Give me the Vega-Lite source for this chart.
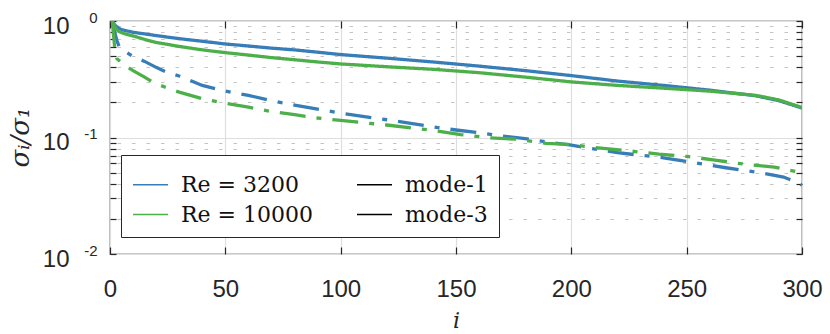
{
  "$schema": "https://vega.github.io/schema/vega-lite/v6.json",
  "width": 692,
  "height": 233,
  "autosize": {"type": "none"},
  "padding": {"left": 110, "top": 21, "right": 28, "bottom": 80},
  "background": "white",
  "config": {
    "view": {"stroke": "#262626", "strokeWidth": 1.2},
    "axis": {"domain": false, "labelFlush": false, "labelOverlap": false, "labelBound": false, "tickColor": "#262626", "tickWidth": 1.2, "labelColor": "#262626", "titleColor": "#262626"},
    "legend": {"orient": "none", "legendX": 11, "legendY": 134, "columns": 2, "padding": 11, "strokeColor": "#262626", "fillColor": "white", "labelFont": "DejaVu Serif", "labelFontSize": 22, "labelColor": "#111", "symbolType": "stroke", "symbolSize": 1225, "symbolStrokeWidth": 1.6, "labelOffset": 12, "columnPadding": 40, "rowPadding": 0, "title": null}
  },
  "datasets": {
    "sv": [
      {"i":1,"s":1,"Re":"Re = 3200","mode":"mode-1"},{"i":2,"s":0.93,"Re":"Re = 3200","mode":"mode-1"},{"i":3,"s":0.89,"Re":"Re = 3200","mode":"mode-1"},{"i":4,"s":0.86,"Re":"Re = 3200","mode":"mode-1"},{"i":5,"s":0.845,"Re":"Re = 3200","mode":"mode-1"},{"i":7,"s":0.825,"Re":"Re = 3200","mode":"mode-1"},{"i":10,"s":0.8,"Re":"Re = 3200","mode":"mode-1"},{"i":15,"s":0.775,"Re":"Re = 3200","mode":"mode-1"},{"i":20,"s":0.75,"Re":"Re = 3200","mode":"mode-1"},{"i":30,"s":0.705,"Re":"Re = 3200","mode":"mode-1"},{"i":40,"s":0.67,"Re":"Re = 3200","mode":"mode-1"},{"i":50,"s":0.635,"Re":"Re = 3200","mode":"mode-1"},{"i":60,"s":0.61,"Re":"Re = 3200","mode":"mode-1"},{"i":70,"s":0.585,"Re":"Re = 3200","mode":"mode-1"},{"i":80,"s":0.565,"Re":"Re = 3200","mode":"mode-1"},{"i":90,"s":0.54,"Re":"Re = 3200","mode":"mode-1"},{"i":100,"s":0.515,"Re":"Re = 3200","mode":"mode-1"},{"i":120,"s":0.48,"Re":"Re = 3200","mode":"mode-1"},{"i":140,"s":0.445,"Re":"Re = 3200","mode":"mode-1"},{"i":160,"s":0.41,"Re":"Re = 3200","mode":"mode-1"},{"i":180,"s":0.375,"Re":"Re = 3200","mode":"mode-1"},{"i":200,"s":0.34,"Re":"Re = 3200","mode":"mode-1"},{"i":220,"s":0.305,"Re":"Re = 3200","mode":"mode-1"},{"i":240,"s":0.28,"Re":"Re = 3200","mode":"mode-1"},{"i":260,"s":0.255,"Re":"Re = 3200","mode":"mode-1"},{"i":280,"s":0.228,"Re":"Re = 3200","mode":"mode-1"},{"i":290,"s":0.207,"Re":"Re = 3200","mode":"mode-1"},{"i":300,"s":0.179,"Re":"Re = 3200","mode":"mode-1"},

      {"i":1,"s":1,"Re":"Re = 3200","mode":"mode-3"},{"i":2,"s":0.8,"Re":"Re = 3200","mode":"mode-3"},{"i":3,"s":0.68,"Re":"Re = 3200","mode":"mode-3"},{"i":4,"s":0.6,"Re":"Re = 3200","mode":"mode-3"},{"i":5,"s":0.575,"Re":"Re = 3200","mode":"mode-3"},{"i":7,"s":0.54,"Re":"Re = 3200","mode":"mode-3"},{"i":10,"s":0.495,"Re":"Re = 3200","mode":"mode-3"},{"i":15,"s":0.45,"Re":"Re = 3200","mode":"mode-3"},{"i":20,"s":0.4,"Re":"Re = 3200","mode":"mode-3"},{"i":25,"s":0.36,"Re":"Re = 3200","mode":"mode-3"},{"i":30,"s":0.337,"Re":"Re = 3200","mode":"mode-3"},{"i":40,"s":0.28,"Re":"Re = 3200","mode":"mode-3"},{"i":50,"s":0.25,"Re":"Re = 3200","mode":"mode-3"},{"i":60,"s":0.23,"Re":"Re = 3200","mode":"mode-3"},{"i":70,"s":0.207,"Re":"Re = 3200","mode":"mode-3"},{"i":80,"s":0.19,"Re":"Re = 3200","mode":"mode-3"},{"i":90,"s":0.175,"Re":"Re = 3200","mode":"mode-3"},{"i":100,"s":0.162,"Re":"Re = 3200","mode":"mode-3"},{"i":120,"s":0.142,"Re":"Re = 3200","mode":"mode-3"},{"i":143,"s":0.121,"Re":"Re = 3200","mode":"mode-3"},{"i":150,"s":0.116,"Re":"Re = 3200","mode":"mode-3"},{"i":160,"s":0.11,"Re":"Re = 3200","mode":"mode-3"},{"i":170,"s":0.103,"Re":"Re = 3200","mode":"mode-3"},{"i":180,"s":0.098,"Re":"Re = 3200","mode":"mode-3"},{"i":190,"s":0.091,"Re":"Re = 3200","mode":"mode-3"},{"i":200,"s":0.086,"Re":"Re = 3200","mode":"mode-3"},{"i":220,"s":0.074,"Re":"Re = 3200","mode":"mode-3"},{"i":240,"s":0.067,"Re":"Re = 3200","mode":"mode-3"},{"i":255,"s":0.06,"Re":"Re = 3200","mode":"mode-3"},{"i":267,"s":0.055,"Re":"Re = 3200","mode":"mode-3"},{"i":280,"s":0.0506,"Re":"Re = 3200","mode":"mode-3"},{"i":292,"s":0.0458,"Re":"Re = 3200","mode":"mode-3"},{"i":298,"s":0.041,"Re":"Re = 3200","mode":"mode-3"},{"i":300,"s":0.039,"Re":"Re = 3200","mode":"mode-3"},

      {"i":1,"s":1,"Re":"Re = 10000","mode":"mode-1"},{"i":2,"s":0.9,"Re":"Re = 10000","mode":"mode-1"},{"i":3,"s":0.84,"Re":"Re = 10000","mode":"mode-1"},{"i":4,"s":0.81,"Re":"Re = 10000","mode":"mode-1"},{"i":5,"s":0.795,"Re":"Re = 10000","mode":"mode-1"},{"i":7,"s":0.77,"Re":"Re = 10000","mode":"mode-1"},{"i":10,"s":0.745,"Re":"Re = 10000","mode":"mode-1"},{"i":15,"s":0.695,"Re":"Re = 10000","mode":"mode-1"},{"i":20,"s":0.655,"Re":"Re = 10000","mode":"mode-1"},{"i":30,"s":0.605,"Re":"Re = 10000","mode":"mode-1"},{"i":40,"s":0.565,"Re":"Re = 10000","mode":"mode-1"},{"i":50,"s":0.535,"Re":"Re = 10000","mode":"mode-1"},{"i":60,"s":0.51,"Re":"Re = 10000","mode":"mode-1"},{"i":70,"s":0.485,"Re":"Re = 10000","mode":"mode-1"},{"i":80,"s":0.465,"Re":"Re = 10000","mode":"mode-1"},{"i":90,"s":0.445,"Re":"Re = 10000","mode":"mode-1"},{"i":100,"s":0.428,"Re":"Re = 10000","mode":"mode-1"},{"i":120,"s":0.405,"Re":"Re = 10000","mode":"mode-1"},{"i":140,"s":0.385,"Re":"Re = 10000","mode":"mode-1"},{"i":160,"s":0.36,"Re":"Re = 10000","mode":"mode-1"},{"i":180,"s":0.33,"Re":"Re = 10000","mode":"mode-1"},{"i":200,"s":0.3,"Re":"Re = 10000","mode":"mode-1"},{"i":220,"s":0.28,"Re":"Re = 10000","mode":"mode-1"},{"i":240,"s":0.265,"Re":"Re = 10000","mode":"mode-1"},{"i":260,"s":0.25,"Re":"Re = 10000","mode":"mode-1"},{"i":280,"s":0.23,"Re":"Re = 10000","mode":"mode-1"},{"i":290,"s":0.21,"Re":"Re = 10000","mode":"mode-1"},{"i":300,"s":0.181,"Re":"Re = 10000","mode":"mode-1"},

      {"i":1,"s":1,"Re":"Re = 10000","mode":"mode-3"},{"i":2,"s":0.6,"Re":"Re = 10000","mode":"mode-3"},{"i":3,"s":0.475,"Re":"Re = 10000","mode":"mode-3"},{"i":5,"s":0.44,"Re":"Re = 10000","mode":"mode-3"},{"i":7,"s":0.41,"Re":"Re = 10000","mode":"mode-3"},{"i":10,"s":0.375,"Re":"Re = 10000","mode":"mode-3"},{"i":15,"s":0.33,"Re":"Re = 10000","mode":"mode-3"},{"i":19,"s":0.295,"Re":"Re = 10000","mode":"mode-3"},{"i":24,"s":0.27,"Re":"Re = 10000","mode":"mode-3"},{"i":30,"s":0.245,"Re":"Re = 10000","mode":"mode-3"},{"i":40,"s":0.215,"Re":"Re = 10000","mode":"mode-3"},{"i":50,"s":0.197,"Re":"Re = 10000","mode":"mode-3"},{"i":60,"s":0.182,"Re":"Re = 10000","mode":"mode-3"},{"i":70,"s":0.167,"Re":"Re = 10000","mode":"mode-3"},{"i":80,"s":0.157,"Re":"Re = 10000","mode":"mode-3"},{"i":90,"s":0.147,"Re":"Re = 10000","mode":"mode-3"},{"i":100,"s":0.14,"Re":"Re = 10000","mode":"mode-3"},{"i":120,"s":0.128,"Re":"Re = 10000","mode":"mode-3"},{"i":140,"s":0.115,"Re":"Re = 10000","mode":"mode-3"},{"i":152,"s":0.106,"Re":"Re = 10000","mode":"mode-3"},{"i":164,"s":0.0996,"Re":"Re = 10000","mode":"mode-3"},{"i":177,"s":0.0965,"Re":"Re = 10000","mode":"mode-3"},{"i":189,"s":0.089,"Re":"Re = 10000","mode":"mode-3"},{"i":200,"s":0.087,"Re":"Re = 10000","mode":"mode-3"},{"i":208,"s":0.083,"Re":"Re = 10000","mode":"mode-3"},{"i":226,"s":0.0764,"Re":"Re = 10000","mode":"mode-3"},{"i":238,"s":0.072,"Re":"Re = 10000","mode":"mode-3"},{"i":251,"s":0.0685,"Re":"Re = 10000","mode":"mode-3"},{"i":263,"s":0.0637,"Re":"Re = 10000","mode":"mode-3"},{"i":275,"s":0.059,"Re":"Re = 10000","mode":"mode-3"},{"i":288,"s":0.0558,"Re":"Re = 10000","mode":"mode-3"},{"i":300,"s":0.0499,"Re":"Re = 10000","mode":"mode-3"}
    ]
  },
  "data": {"name": "sv"},
  "encoding": {
    "color": {"field": "Re", "type": "nominal", "scale": {"domain": ["Re = 3200", "Re = 10000", "mode-1", "mode-3"], "range": ["#377eb8", "#4daf4a", "#000000", "#000000"]}},
    "strokeDash": {"field": "mode", "type": "nominal", "scale": {"domain": ["mode-1", "mode-3"], "range": [[1, 0], [26, 11, 5, 11]]}, "legend": null}
  },
  "layer": [
    {
      "transform": [{"filter": "datum.Re == 'Re = 3200' && datum.mode == 'mode-1'"}],
      "mark": {"type": "line", "strokeWidth": 3.3, "strokeCap": "butt", "clip": true},
      "encoding": {
        "x": {"field": "i", "type": "quantitative", "scale": {"domain": [0, 300], "nice": false},
          "axis": {"orient": "bottom", "values": [0, 50, 100, 150, 200, 250, 300], "labelFont": "Liberation Sans", "labelFontSize": 24, "tickSize": -7, "labelPadding": 30, "grid": true, "gridColor": "#dedede", "gridWidth": 1.2,
            "title": "i", "titleFont": "DejaVu Serif", "titleFontStyle": "italic", "titleFontWeight": "normal", "titleFontSize": 22, "titleX": 346, "titleY": 66, "titleBaseline": "middle"}},
        "y": {"field": "s", "type": "quantitative", "scale": {"type": "log", "domain": [0.01, 1], "nice": false},
          "axis": {"orient": "left", "values": [0.01, 0.02, 0.03, 0.04, 0.05, 0.06, 0.07, 0.08, 0.09, 0.1, 0.2, 0.3, 0.4, 0.5, 0.6, 0.7, 0.8, 0.9, 1],
            "labelExpr": "abs(log(datum.value)/LN10 - round(log(datum.value)/LN10)) < 1e-6 ? '10' : ''",
            "labelFont": "Liberation Sans", "labelFontSize": 24, "labelPadding": 47, "labelOffset": 5, "tickSize": -6,
            "grid": true,
            "gridColor": {"condition": {"test": "abs(log(datum.value)/LN10 - round(log(datum.value)/LN10)) < 1e-6", "value": "#dedede"}, "value": "#c4c4c4"},
            "gridDash": {"condition": {"test": "abs(log(datum.value)/LN10 - round(log(datum.value)/LN10)) < 1e-6", "value": []}, "value": [3.5, 11]},
            "gridWidth": 1.2, "gridDashOffset": 7.5,
            "title": "σᵢ/σ₁", "titleFont": "DejaVu Serif", "titleFontStyle": "italic", "titleFontWeight": "normal", "titleFontSize": 26, "titleX": -90, "titleY": 116, "titleBaseline": "middle", "titleAngle": -90}}
      }
    },
    {
      "transform": [{"filter": "datum.Re == 'Re = 3200' && datum.mode == 'mode-3'"}],
      "mark": {"type": "line", "strokeWidth": 3.3, "strokeCap": "butt", "clip": true},
      "encoding": {
        "x": {"field": "i", "type": "quantitative", "axis": {"orient": "top", "values": [0, 50, 100, 150, 200, 250, 300], "labels": false, "tickSize": -7, "grid": false, "title": null}},
        "y": {"field": "s", "type": "quantitative",
          "axis": {"orient": "left", "values": [0.01, 0.1, 1], "ticks": false, "grid": false, "labelExpr": "'' + round(log(datum.value)/LN10)", "labelFont": "Liberation Sans", "labelFontSize": 15, "labelPadding": 13, "labelOffset": -4, "title": null}}
      }
    },
    {
      "transform": [{"filter": "datum.Re == 'Re = 10000' && datum.mode == 'mode-1'"}],
      "mark": {"type": "line", "strokeWidth": 3.3, "strokeCap": "butt", "clip": true},
      "encoding": {
        "x": {"field": "i", "type": "quantitative", "axis": null},
        "y": {"field": "s", "type": "quantitative",
          "axis": {"orient": "right", "values": [0.01, 0.02, 0.03, 0.04, 0.05, 0.06, 0.07, 0.08, 0.09, 0.1, 0.2, 0.3, 0.4, 0.5, 0.6, 0.7, 0.8, 0.9, 1], "labels": false, "tickSize": -6, "grid": false, "title": null}}
      }
    },
    {
      "transform": [{"filter": "datum.Re == 'Re = 10000' && datum.mode == 'mode-3'"}],
      "mark": {"type": "line", "strokeWidth": 3.3, "strokeCap": "butt", "clip": true},
      "encoding": {
        "x": {"field": "i", "type": "quantitative", "axis": null},
        "y": {"field": "s", "type": "quantitative", "axis": null}
      }
    }
  ],
  "resolve": {"axis": {"x": "independent", "y": "independent"}}
}
